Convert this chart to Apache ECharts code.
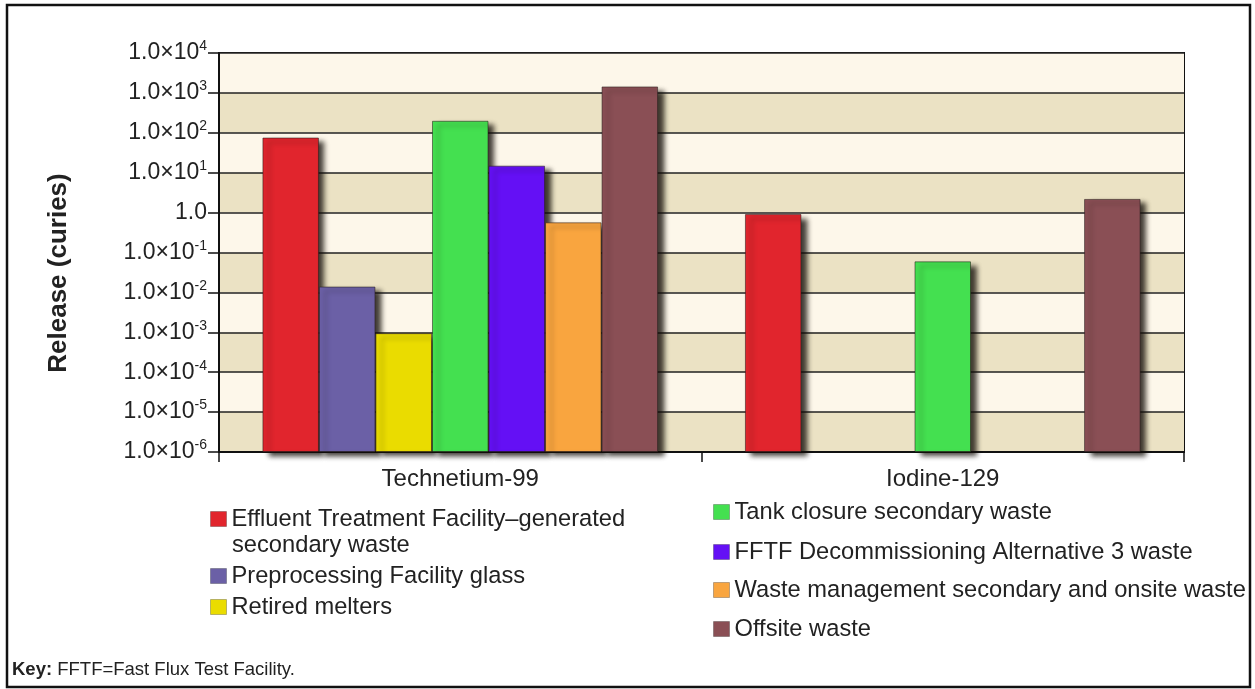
<!DOCTYPE html>
<html>
<head>
<meta charset="utf-8">
<script src="https://cdn.jsdelivr.net/npm/echarts@6/dist/echarts.min.js"></script>
<style>html,body{margin:0;padding:0;background:#fff}#c{width:1255px;height:689px}</style>
</head>
<body>
<div id="c"></div>
<script>
// ---- data ----
const categories = ['Technetium-99', 'Iodine-129'];
const seriesNames = [
  'Effluent Treatment Facility\u2013generated secondary waste',
  'Preprocessing Facility glass',
  'Retired melters',
  'Tank closure secondary waste',
  'FFTF Decommissioning Alternative 3 waste',
  'Waste management secondary and onsite waste',
  'Offsite waste'
];
const etfWaste = [76, 0.92];
const preprocessingGlass = [0.014, null];
const retiredMelters = [0.00095, null];
const tankClosure = [200, 0.06];
const fftfWaste = [15, null];
const wasteManagement = [0.57, null];
const offsiteWaste = [1450, 2.2];
const seriesValues = [etfWaste, preprocessingGlass, retiredMelters, tankClosure, fftfWaste, wasteManagement, offsiteWaste];
const axisMin = 1e-6, axisMax = 1e4;
const yAxisTitle = 'Release (curies)';

// ---- style ----
const colors = ['#e1252d', '#6b60a6', '#eadc00', '#44e050', '#6410f5', '#f9a53f', '#8a4f55'];
const FONT = '"Liberation Sans", Arial, Helvetica, sans-serif';
const TXT = '#222';

const chart = echarts.init(document.getElementById('c'), null, {renderer: 'canvas'});

const series = [];
seriesNames.forEach((name, i) => {
  // invisible floor so that bars rise from the axis minimum on the log axis
  series.push({
    type: 'bar', name: '__floor' + i, stack: 's' + i,
    data: categories.map(() => axisMin),
    itemStyle: {color: 'rgba(0,0,0,0)'},
    barGap: '0%', barCategoryGap: '18%', silent: true,
    emphasis: {disabled: true}
  });
  series.push({
    type: 'bar', name: name, stack: 's' + i,
    data: seriesValues[i],
    barGap: '0%', barCategoryGap: '18%',
    itemStyle: {
      color: colors[i],
      borderColor: 'rgba(40,30,30,0.55)', borderWidth: 1,
      shadowColor: 'rgba(20,15,10,0.8)', shadowBlur: 5,
      shadowOffsetX: 6, shadowOffsetY: 4
    }
  });
});

const legendPos = [
  {left: 210, top: 506}, {left: 210, top: 563}, {left: 210, top: 594},
  {left: 713, top: 499}, {left: 713, top: 539}, {left: 713, top: 577}, {left: 713, top: 616}
];
const legends = seriesNames.map((name, i) => ({
  data: [name],
  left: legendPos[i].left, top: legendPos[i].top,
  padding: 0, itemWidth: 16, itemHeight: 15, icon: 'rect',
  itemStyle: {borderColor: 'rgba(0,0,0,0.25)', borderWidth: 1},
  formatter: (n) => i === 0 ? 'Effluent Treatment Facility\u2013generated' : n,
  textStyle: {fontFamily: FONT, fontSize: 23.7, color: TXT, lineHeight: 26}
}));

function yLabel(v) {
  const e = Math.round(Math.log10(v));
  if (e === 0) return '{m|1.0}';
  return '{m|1.0\u00d710}{e|' + e + '}';
}

chart.setOption({
  animation: false,
  backgroundColor: '#ffffff',
  color: colors,
  grid: {left: 219, top: 53, right: 71, bottom: 237, show: true, borderColor: '#111', borderWidth: 2, backgroundColor: 'transparent'},
  legend: legends,
  xAxis: {
    type: 'category', data: categories,
    axisLine: {lineStyle: {color: '#111', width: 2}},
    axisTick: {show: true, length: 10, lineStyle: {color: '#111', width: 1.5}},
    axisLabel: {fontFamily: FONT, fontSize: 24, color: TXT, margin: 15}
  },
  yAxis: {
    type: 'log', logBase: 10, min: axisMin, max: axisMax, interval: 1,
    axisLine: {show: true, lineStyle: {color: '#111', width: 2}},
    axisTick: {show: true, length: 11, lineStyle: {color: '#111', width: 1.5}},
    splitLine: {show: true, lineStyle: {color: '#222', width: 1.5}},
    splitArea: {show: true, areaStyle: {color: ['#ebe2c4', '#fdf7ea']}},
    axisLabel: {
      formatter: yLabel, margin: 12,
      rich: {
        m: {fontFamily: FONT, fontSize: 23, color: TXT, lineHeight: 27},
        e: {fontFamily: FONT, fontSize: 14, color: TXT, verticalAlign: 'top', lineHeight: 27}
      }
    }
  },
  graphic: [
    {type: 'rect', shape: {x: 7, y: 5, width: 1243, height: 682}, style: {fill: 'none', stroke: '#111', lineWidth: 2.5}, silent: true, z: 100},
    {type: 'text', x: 59, y: 273, rotation: Math.PI / 2,
     style: {text: yAxisTitle, font: 'bold 26px ' + FONT, fill: TXT, align: 'center', verticalAlign: 'middle'}},
    {type: 'text', left: 232, top: 533, style: {text: 'secondary waste', font: '23.7px ' + FONT, fill: TXT}},
    {type: 'text', left: 12, top: 660, style: {text: '{b|Key:} FFTF=Fast Flux Test Facility.', font: '18.5px ' + FONT, fill: TXT, rich: {b: {fontWeight: 'bold', fontSize: 18.5, fontFamily: FONT, fill: TXT}}}}
  ],
  series: series
});
</script>
</body>
</html>
